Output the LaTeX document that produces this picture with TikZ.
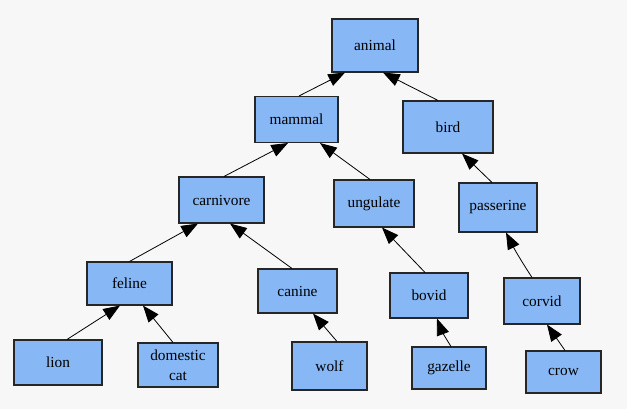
\documentclass[tikz,border=0pt]{standalone}
\usepackage{fontspec}
\setmainfont{Liberation Serif}
\usetikzlibrary{arrows.meta,calc}
\begin{document}
\begin{tikzpicture}[x=0.75pt,y=-0.75pt,
  taxon/.style 2 args={draw=black!85,fill=nodecol,line width=0.8pt,minimum width=#1*0.75pt,minimum height=#2*0.75pt,inner sep=0pt,align=center,font=\fontsize{11.5}{15}\selectfont},
  isa/.style={-{Triangle[length=12.5pt,width=9.5pt]},line width=0.6pt}]
\definecolor{nodecol}{HTML}{87B8F5}
\definecolor{bgcol}{HTML}{F7F7F7}
\fill[bgcol] (0,0) rectangle (627,409);
% top levels
\node[taxon={86}{53}] (animal) at (375,45.5) {animal};
\node[taxon={83}{46}] (mammal) at (296.5,119.5) {mammal};
\node[taxon={90}{52}] (bird) at (448,127) {bird};
\node[taxon={85}{46}] (carnivore) at (221.5,200) {carnivore};
\node[taxon={80}{47}] (ungulate) at (374,203.5) {ungulate};
\node[taxon={78}{49}] (passerine) at (498,207.5) {passerine};
\node[taxon={85}{43}] (feline) at (129.5,283.5) {feline};
\node[taxon={79}{44}] (canine) at (297.5,291) {canine};
\node[taxon={78}{45}] (bovid) at (429,295.5) {bovid};
\node[taxon={76}{46}] (corvid) at (542,301) {corvid};
% leaves
\node[taxon={88}{45}] (lion) at (58,362.5) {lion};
\node[taxon={80}{44}] (cat) at (178,365) {domestic\\cat};
\node[taxon={75}{48}] (wolf) at (329.5,366) {wolf};
\node[taxon={74}{42}] (gazelle) at (449,368) {gazelle};
\node[taxon={75}{42}] (crow) at (563.5,372) {crow};
% is-a links
\draw[isa] ($(mammal.north)+(2.5,0)$) -- ($(animal.south)+(-30,0)$);
\draw[isa] ($(bird.north)+(-10,0)$) -- ($(animal.south)+(8,0)$);
\draw[isa] ($(carnivore.north)+(2.5,0)$) -- ($(mammal.south)+(-8.5,0)$);
\draw[isa] ($(ungulate.north)+(-4,0)$) -- ($(mammal.south)+(23.5,0)$);
\draw[isa] ($(passerine.north)+(-6,0)$) -- ($(bird.south)+(14,0)$);
\draw[isa] (feline.north) -- ($(carnivore.south)+(-23.5,0)$);
\draw[isa] ($(canine.north)+(-5.5,0)$) -- ($(carnivore.south)+(8.5,0)$);
\draw[isa] ($(bovid.north)+(-4,0)$) -- ($(ungulate.south)+(8,0)$);
\draw[isa] ($(corvid.north)+(-10,0)$) to[bend left=3] ($(passerine.south)+(8,0)$);
\draw[isa] ($(lion.north)+(9,0)$) -- ($(feline.south)+(-9.5,0)$);
\draw[isa] ($(cat.north)+(-5,0)$) -- ($(feline.south)+(13.5,0)$);
\draw[isa] ($(wolf.north)+(7.5,0)$) -- ($(canine.south)+(15.5,0)$);
\draw[isa] ($(gazelle.north)+(2,0)$) to[bend left=6] ($(bovid.south)+(8,0)$);
\draw[isa] ($(crow.north)+(1.5,0)$) -- ($(corvid.south)+(5,0)$);
\end{tikzpicture}
\end{document}
